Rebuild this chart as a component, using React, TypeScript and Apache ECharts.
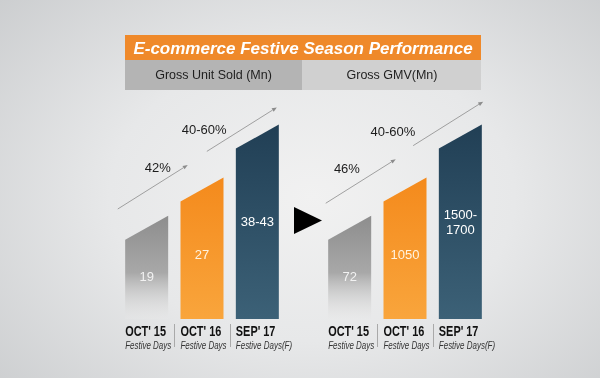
import React, { useEffect, useRef } from 'react';
import * as echarts from 'echarts';

// ---- data ----
const titleText = 'E-commerce Festive Season Performance';
const panelTitles = ['Gross Unit Sold (Mn)', 'Gross GMV(Mn)'];
const periods = ["OCT' 15", "OCT' 16", "SEP' 17"];
const periodNotes = ['Festive Days', 'Festive Days', 'Festive Days(F)'];
// bar heights of the infographic (units sold, Mn; forecast at low end of 38-43); both panels share them
const unitsSold = [19, 27, 38];
const unitsSoldLabels = ['19', '27', '38-43'];
const gmvLabels = ['72', '1050', '1500-\n1700'];
const unitsGrowth = ['42%', '40-60%'];
const gmvGrowth = ['46%', '40-60%'];

// ---- layout / style ----
const BAR_W = 43;
const SLANT = 24;
const BAR_COLORS = [
  [
    { offset: 0, color: '#8d8d8d' },
    { offset: 0.55, color: '#a8a8a8' },
    { offset: 1, color: 'rgba(232,232,232,0.3)' },
  ],
  [
    { offset: 0, color: '#f48a1c' },
    { offset: 1, color: '#f9a53c' },
  ],
  [
    { offset: 0, color: '#213f55' },
    { offset: 1, color: '#3c6177' },
  ],
];
const LABEL_COLORS = ['#f2f2f2', '#fff3e0', '#ffffff'];
const LABEL_DY = [3, 0, -6];
// arrow placement in category/value units: [midCat, midVal, labelCat, labelVal]
const ARROW_POS = [
  [
    [0.11, 27.5, 0.2, 31.5],
    [1.72, 39.5, 1.04, 39.4],
  ],
  [
    [0.2, 28.7, -0.05, 31.3],
    [1.78, 40.7, 0.78, 39.0],
  ],
];
const FONT = '"Liberation Sans", Arial, sans-serif';

function barSeries(gi: number, values: number[], labels: string[]) {
  return {
    type: 'custom',
    xAxisIndex: gi,
    yAxisIndex: gi,
    data: values.map((v, i) => [i, v]),
    renderItem: (params: any, api: any) => {
      const i = params.dataIndex;
      const top = api.coord([api.value(0), api.value(1)]);
      const base = api.coord([api.value(0), 0]);
      const band = api.size([1, 0])[0];
      const cx = top[0];
      const left = cx - BAR_W / 2;
      const children: any[] = [
        {
          type: 'polygon',
          shape: {
            points: [
              [left, top[1] + SLANT / 2],
              [cx + BAR_W / 2, top[1] - SLANT / 2],
              [cx + BAR_W / 2, base[1]],
              [left, base[1]],
            ],
          },
          style: { fill: new echarts.graphic.LinearGradient(0, 0, 0, 1, BAR_COLORS[i]) },
        },
        {
          type: 'text',
          x: cx,
          y: (top[1] + base[1]) / 2 + LABEL_DY[i],
          style: {
            text: labels[i],
            fill: LABEL_COLORS[i],
            fontSize: 13,
            fontFamily: FONT,
            lineHeight: 15,
            align: 'center',
            verticalAlign: 'middle',
          },
        },
        {
          type: 'text',
          x: left,
          y: base[1] + 6,
          scaleX: 0.78,
          style: {
            text: periods[i],
            fill: '#111111',
            fontSize: 14,
            fontWeight: 'bold',
            fontFamily: FONT,
            align: 'left',
            verticalAlign: 'top',
          },
        },
        {
          type: 'text',
          x: left,
          y: base[1] + 21,
          scaleX: 0.76,
          style: {
            text: periodNotes[i],
            fill: '#333333',
            fontSize: 10.5,
            fontStyle: 'italic',
            fontFamily: FONT,
            align: 'left',
            verticalAlign: 'top',
          },
        },
      ];
      if (i > 0) {
        const sx = Math.round(cx - band / 2) + 0.5;
        children.push({
          type: 'line',
          shape: { x1: sx, y1: base[1] + 5, x2: sx, y2: base[1] + 28 },
          style: { stroke: '#a9a9a9', lineWidth: 1 },
        });
      }
      return { type: 'group', children };
    },
  };
}

function arrowSeries(gi: number, growth: string[], values: number[]) {
  return {
    type: 'custom',
    xAxisIndex: gi,
    yAxisIndex: gi,
    data: growth.map((g, k) => [k, values[k + 1]]),
    renderItem: (params: any, api: any) => {
      const k = params.dataIndex;
      const pos = ARROW_POS[gi][k];
      const band = api.size([1, 0])[0];
      const at = (c: number, v: number) => {
        const p = api.coord([0, v]);
        return [p[0] + c * band, p[1]];
      };
      const midPt = at(pos[0], pos[1]);
      const lab = at(pos[2], pos[3]);
      const hx = 35, hy = -22;
      const x1 = midPt[0] - hx, y1 = midPt[1] - hy;
      const x2 = midPt[0] + hx, y2 = midPt[1] + hy;
      const len = Math.sqrt(hx * hx + hy * hy);
      const ux = hx / len, uy = hy / len;
      const px = -uy, py = ux;
      const hl = 5, hw = 2;
      return {
        type: 'group',
        children: [
          {
            type: 'line',
            shape: { x1, y1, x2: x2 - ux * hl, y2: y2 - uy * hl },
            style: { stroke: '#8c8c8c', lineWidth: 0.8 },
          },
          {
            type: 'polygon',
            shape: {
              points: [
                [x2, y2],
                [x2 - ux * hl + px * hw, y2 - uy * hl + py * hw],
                [x2 - ux * hl - px * hw, y2 - uy * hl - py * hw],
              ],
            },
            style: { fill: '#8c8c8c' },
          },
          {
            type: 'text',
            x: lab[0],
            y: lab[1],
            style: {
              text: growth[k],
              fill: '#1c1c1c',
              fontSize: 13,
              fontFamily: FONT,
              align: 'center',
              verticalAlign: 'middle',
            },
          },
        ],
      };
    },
  };
}

function makeXAxis(gi: number) {
  return {
    type: 'category',
    gridIndex: gi,
    data: periods,
    axisLine: { show: false },
    axisTick: { show: false },
    axisLabel: { show: false },
  };
}

function makeYAxis(gi: number) {
  return {
    type: 'value',
    gridIndex: gi,
    min: 0,
    max: 50,
    show: false,
  };
}

export default function App() {
  const ref = useRef<HTMLDivElement>(null);
  useEffect(() => {
    if (!ref.current) return;
    const chart = echarts.init(ref.current, undefined, { renderer: 'svg' });
    chart.setOption({
      animation: false,
      grid: [
        { left: 119, width: 166, top: 79, height: 240 },
        { left: 322, width: 166, top: 79, height: 240 },
      ],
      xAxis: [makeXAxis(0), makeXAxis(1)],
      yAxis: [makeYAxis(0), makeYAxis(1)],
      graphic: [
        { type: 'rect', shape: { x: 125, y: 35, width: 356, height: 25 }, style: { fill: '#ef892a' } },
        {
          type: 'text',
          x: 303,
          y: 48,
          style: {
            text: titleText,
            fill: '#ffffff',
            fontSize: 17,
            fontWeight: 'bold',
            fontStyle: 'italic',
            fontFamily: FONT,
            align: 'center',
            verticalAlign: 'middle',
          },
        },
        { type: 'rect', shape: { x: 125, y: 60, width: 177, height: 30 }, style: { fill: '#b4b4b4' } },
        { type: 'rect', shape: { x: 302, y: 60, width: 179, height: 30 }, style: { fill: '#d0d0d0' } },
        {
          type: 'text',
          x: 213.5,
          y: 75,
          style: { text: panelTitles[0], fill: '#1e1e1e', fontSize: 12.5, fontFamily: FONT, align: 'center', verticalAlign: 'middle' },
        },
        {
          type: 'text',
          x: 392,
          y: 75,
          style: { text: panelTitles[1], fill: '#1e1e1e', fontSize: 12.5, fontFamily: FONT, align: 'center', verticalAlign: 'middle' },
        },
        {
          type: 'polygon',
          shape: { points: [[294, 207], [322, 220.5], [294, 234]] },
          style: { fill: '#000000' },
        },
      ],
      series: [
        barSeries(0, unitsSold, unitsSoldLabels),
        barSeries(1, unitsSold, gmvLabels),
        arrowSeries(0, unitsGrowth, unitsSold),
        arrowSeries(1, gmvGrowth, unitsSold),
      ],
    });
    return () => chart.dispose();
  }, []);
  return (
    <div
      style={{
        position: 'fixed',
        left: 0,
        top: 0,
        width: 600,
        height: 378,
        background:
          'radial-gradient(ellipse 75% 85% at 52% 52%, #f1f1f1 0%, #e7e8e9 45%, #c8cacc 100%)',
      }}
    >
      <div ref={ref} style={{ width: 600, height: 378 }} />
    </div>
  );
}
